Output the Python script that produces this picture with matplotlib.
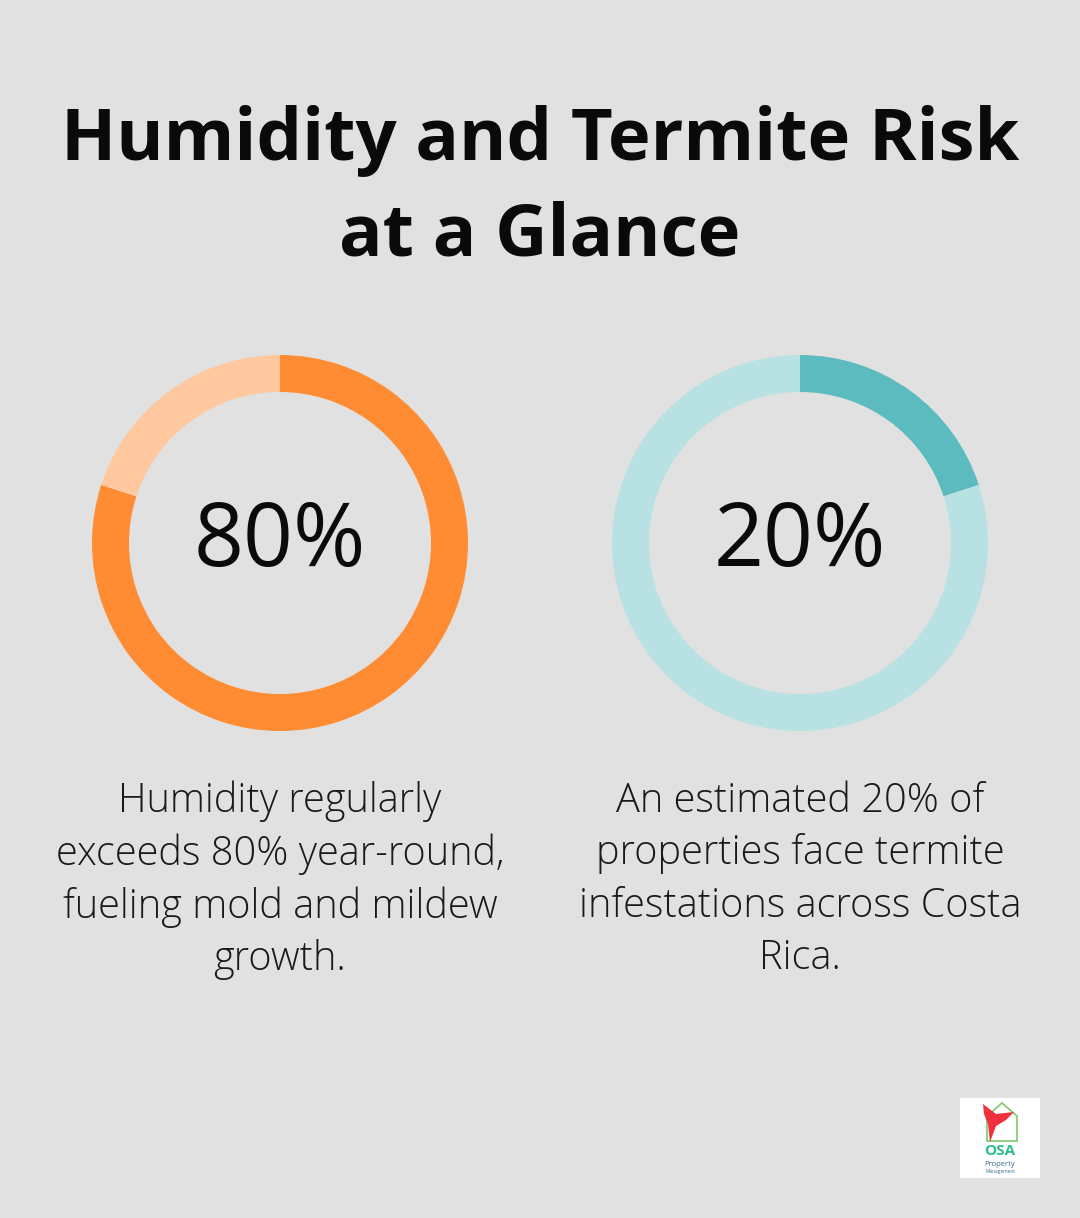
import numpy as np
import matplotlib.pyplot as plt
from matplotlib.patches import Rectangle, Polygon

# Data
title = "Humidity and Termite Risk\nat a Glance"
values = [80, 20]
labels = ["80%", "20%"]
captions = [
    "Humidity regularly\nexceeds 80% year-round,\nfueling mold and mildew\ngrowth.",
    "An estimated 20% of\nproperties face termite\ninfestations across Costa\nRica.",
]
dark = ["#FF8C33", "#5BBBBF"]
light = ["#FFC89E", "#B8E1E3"]

W, H = 1080, 1218
bg = "#E0E1E0"
fig = plt.figure(figsize=(W / 100, H / 100), dpi=100, facecolor=bg)

fig.text(0.5, 1 - 189 / H, title, ha="center", va="center", fontsize=52,
         fontweight="bold", family="Open Sans", linespacing=1.43, color="#0a0a0a")

centers_x = [280, 800]
r = 188
for i, v in enumerate(values):
    cx = centers_x[i]
    ax = fig.add_axes([(cx - r) / W, (H - 543 - r) / H, 2 * r / W, 2 * r / H])
    ax.pie([v, 100 - v], colors=[dark[i], light[i]], startangle=90,
           counterclock=False, radius=1,
           wedgeprops=dict(width=37 / r, linewidth=0))
    ax.set_xlim(-1, 1)
    ax.set_ylim(-1, 1)
    ax.set_aspect("equal")
    ax.axis("off")
    ax.text(0, 0, labels[i], ha="center", va="center", fontsize=63,
            family="Open Sans", color="#0a0a0a")
    fig.text(cx / W, 1 - 880 / H, captions[i], ha="center", va="center",
             fontsize=28.6, family="Open Sans", fontweight="light",
             linespacing=1.36, color="#1a1a1a")

# logo (white tile, house outline, red bird, text)
def px(x, y):
    return (x / W, 1 - y / H)

fig.patches.append(Rectangle(px(960, 1178), 80 / W, 80 / H,
                             transform=fig.transFigure, facecolor="white",
                             edgecolor="none"))
house = [px(987, 1141), px(987, 1116), px(1002, 1103), px(1017, 1116), px(1017, 1141)]
fig.patches.append(Polygon(house, closed=True, transform=fig.transFigure,
                           facecolor="none", edgecolor="#7CCB6A", linewidth=1.2))
bird = [px(983, 1104), px(996, 1114), px(1014, 1112), px(1006, 1120),
        px(996, 1126), px(990, 1142), px(988, 1124), px(984, 1114)]
fig.patches.append(Polygon(bird, closed=True, transform=fig.transFigure,
                           facecolor="#F0303A", edgecolor="none"))
fig.text(1000 / W, 1 - 1151 / H, "OSA", ha="center", va="center", fontsize=11,
         fontweight="bold", color="#2DBE8C", family="Open Sans")
fig.text(1000 / W, 1 - 1164 / H, "Property", ha="center", va="center",
         fontsize=5.5, color="#3A6E8F", family="Open Sans")
fig.text(1000 / W, 1 - 1172 / H, "Management", ha="center", va="center",
         fontsize=3.5, color="#3A6E8F", family="Open Sans")

fig.savefig("out.png", dpi=100, facecolor=bg)
